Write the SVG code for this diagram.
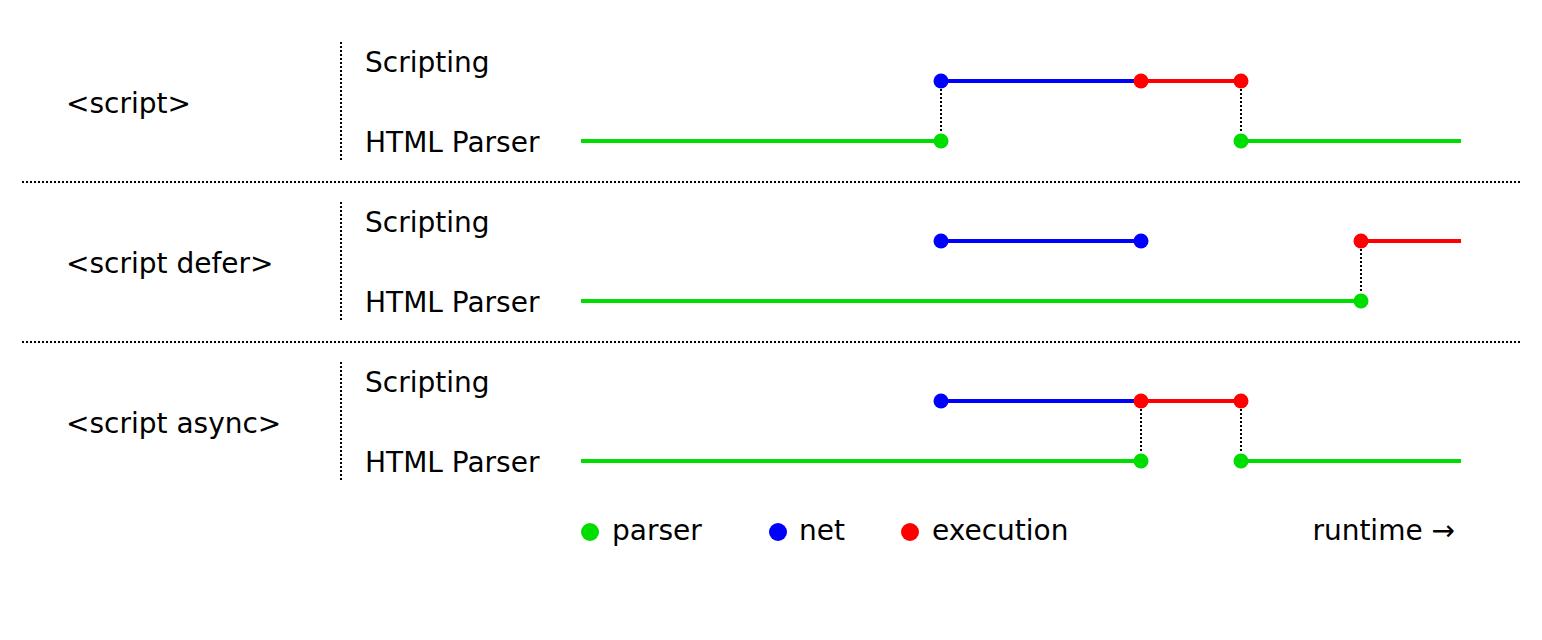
<svg xmlns="http://www.w3.org/2000/svg" width="1542" height="640" viewBox="0 0 1542 640">
<style>
text{font-family:"DejaVu Sans",Verdana,sans-serif;font-size:28px;fill:#000}
.sep{stroke:#000;stroke-width:2;stroke-dasharray:2 2;fill:none}
.vl{stroke:#000;stroke-width:2;stroke-dasharray:2 2;fill:none}
.g{stroke:#00dd00;stroke-width:4;fill:none}
.b{stroke:#0000ff;stroke-width:4;fill:none}
.r{stroke:#ff0000;stroke-width:4;fill:none}
.dg{fill:#00dd00}.db{fill:#0000ff}.dr{fill:#ff0000}
</style>
<rect width="1542" height="640" fill="#fff"/>
<g id="separators">
<line class="sep" x1="22" y1="182" x2="1520" y2="182"/>
<line class="sep" x1="22" y1="342" x2="1520" y2="342"/>
<line class="sep" x1="341" y1="42" x2="341" y2="161"/>
<line class="sep" x1="341" y1="202" x2="341" y2="321"/>
<line class="sep" x1="341" y1="362" x2="341" y2="481"/>
</g>
<g id="labels">
<text x="66" y="113">&lt;script&gt;</text>
<text x="365" y="72">Scripting</text>
<text x="365" y="152">HTML Parser</text>
<text x="66" y="273">&lt;script defer&gt;</text>
<text x="365" y="232">Scripting</text>
<text x="365" y="312">HTML Parser</text>
<text x="66" y="433">&lt;script async&gt;</text>
<text x="365" y="392">Scripting</text>
<text x="365" y="472">HTML Parser</text>
</g>
<g id="connectors">
<line class="g" x1="581" y1="141" x2="941" y2="141"/>
<line class="b" x1="941" y1="81" x2="1141" y2="81"/>
<line class="r" x1="1141" y1="81" x2="1241" y2="81"/>
<line class="g" x1="1241" y1="141" x2="1461" y2="141"/>
<line class="vl" x1="941" y1="89" x2="941" y2="133"/>
<line class="vl" x1="1241" y1="89" x2="1241" y2="133"/>

<line class="g" x1="581" y1="301" x2="1361" y2="301"/>
<line class="b" x1="941" y1="241" x2="1141" y2="241"/>
<line class="r" x1="1361" y1="241" x2="1461" y2="241"/>
<line class="vl" x1="1361" y1="249" x2="1361" y2="293"/>

<line class="g" x1="581" y1="461" x2="1141" y2="461"/>
<line class="b" x1="941" y1="401" x2="1141" y2="401"/>
<line class="r" x1="1141" y1="401" x2="1241" y2="401"/>
<line class="g" x1="1241" y1="461" x2="1461" y2="461"/>
<line class="vl" x1="1141" y1="409" x2="1141" y2="453"/>
<line class="vl" x1="1241" y1="409" x2="1241" y2="453"/>
</g>
<g id="dots">
<circle class="db" cx="941" cy="81" r="7.5"/>
<circle class="dr" cx="1141" cy="81" r="7.5"/>
<circle class="dr" cx="1241" cy="81" r="7.5"/>
<circle class="dg" cx="941" cy="141" r="7.5"/>
<circle class="dg" cx="1241" cy="141" r="7.5"/>
<circle class="db" cx="941" cy="241" r="7.5"/>
<circle class="db" cx="1141" cy="241" r="7.5"/>
<circle class="dr" cx="1361" cy="241" r="7.5"/>
<circle class="dg" cx="1361" cy="301" r="7.5"/>
<circle class="db" cx="941" cy="401" r="7.5"/>
<circle class="dr" cx="1141" cy="401" r="7.5"/>
<circle class="dr" cx="1241" cy="401" r="7.5"/>
<circle class="dg" cx="1141" cy="461" r="7.5"/>
<circle class="dg" cx="1241" cy="461" r="7.5"/>
</g>
<g id="legend">
<circle class="dg" cx="590" cy="532" r="9"/>
<text x="612" y="540">parser</text>
<circle class="db" cx="778" cy="532" r="9"/>
<text x="799" y="540">net</text>
<circle class="dr" cx="910" cy="532" r="9"/>
<text x="932" y="540">execution</text>
<text x="1455" y="540" text-anchor="end">runtime →</text>
</g>
</svg>
